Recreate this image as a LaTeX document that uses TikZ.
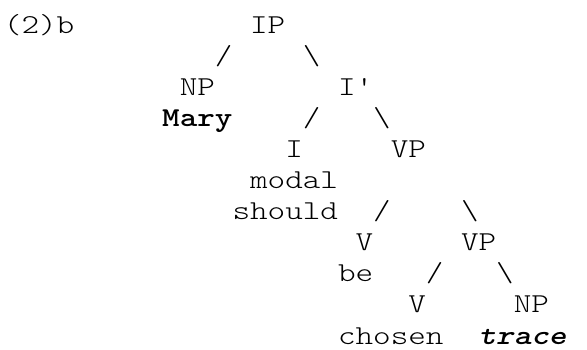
\documentclass[tikz,border=0pt]{standalone}
\usepackage{fontspec}
\newfontfamily\courlike{lmmonolt10-regular.otf}[
  BoldFont=lmmonolt10-bold.otf,
  ItalicFont=lmmonolt10-oblique.otf,
  BoldItalicFont=lmmonolt10-boldoblique.otf,
  FakeStretch=1.2266]
\begin{document}
\begin{tikzpicture}[x=1pt,y=1pt,
  txt/.style={anchor=base west,inner sep=0pt,outer sep=0pt,
    font=\courlike\fontsize{27.3}{31}\selectfont, text=black},
  strong/.style={txt, font=\courlike\bfseries\fontsize{27.3}{31}\selectfont},
  strongit/.style={txt, font=\courlike\bfseries\itshape\fontsize{27.3}{31}\selectfont}]
\useasboundingbox (0,0) rectangle (587,349);
\newcommand\tx[5][txt]{\node[#1] (#2) at ({4+#3*17.58},{316-#4*31.1}) {#5};}
\tx{ex}{0}{0}{(2)b}
\tx{ip}{14}{0}{IP}
\tx{s1}{12}{1}{/}
\tx{b1}{17}{1}{\textbackslash}
\tx{np}{10}{2}{NP}
\tx{ibar}{19}{2}{I'}
\tx[strong]{mary}{9}{3}{Mary}
\tx{s2}{17}{3}{/}
\tx{b2}{21}{3}{\textbackslash}
\tx{i}{16}{4}{I}
\tx{vp1}{22}{4}{VP}
\tx{modal}{14}{5}{modal}
\tx{should}{13}{6}{should}
\tx{s3}{21}{6}{/}
\tx{b3}{26}{6}{\textbackslash}
\tx{v1}{20}{7}{V}
\tx{vp2}{26}{7}{VP}
\tx{be}{19}{8}{be}
\tx{s4}{24}{8}{/}
\tx{b4}{28}{8}{\textbackslash}
\tx{v2}{23}{9}{V}
\tx{np2}{29}{9}{NP}
\tx{chosen}{19}{10}{chosen}
\tx[strongit]{trace}{27}{10}{trace}
\end{tikzpicture}
\end{document}
